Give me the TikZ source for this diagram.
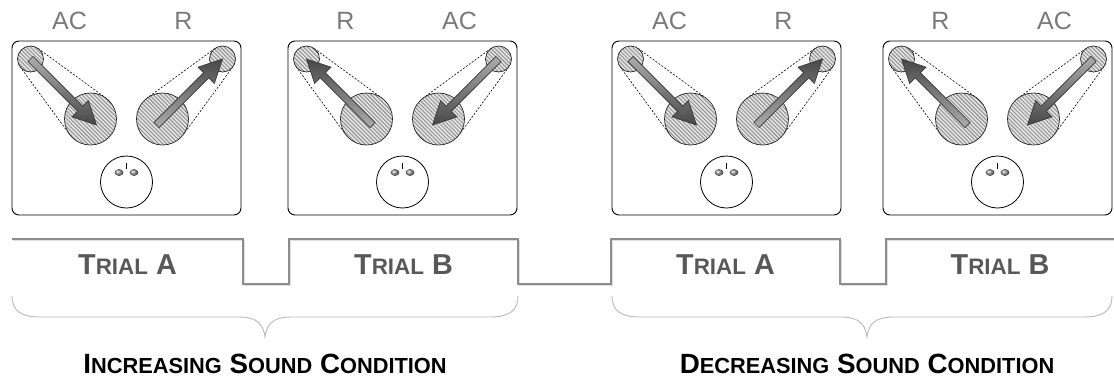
\documentclass[tikz,border=0pt]{standalone}
\usepackage{fontspec}
\setmainfont{Liberation Sans}
\usetikzlibrary{calc,patterns.meta}
\definecolor{lblgray}{HTML}{7A7A7A}
\definecolor{trialgray}{HTML}{585858}
\definecolor{stepgray}{HTML}{8C8C8C}
\definecolor{bracegray}{HTML}{B8B8B8}
\newcommand\blockarrow[3]{%
  \coordinate (ba-n) at ($(#2)!23pt!(#1)$);
  \path[arrowst,#3] ($(#1)!3.6pt!90:(#2)$) -- ($(ba-n)!3.6pt!-90:(#1)$) -- ($(ba-n)!11.5pt!-90:(#1)$) -- (#2) -- ($(ba-n)!11.5pt!90:(#1)$) -- ($(ba-n)!3.6pt!90:(#1)$) -- ($(#1)!3.6pt!-90:(#2)$) -- cycle;}
\newcommand\scT[1]{{\fontsize{22.4}{24}\selectfont #1}}
\newcommand\scC[1]{{\fontsize{21.8}{24}\selectfont #1}}
\begin{document}
\begin{tikzpicture}[x=1pt,y=-1pt,
  panelbox/.style={draw=black, line width=0.9pt, rounded corners=7pt, minimum width=229pt, minimum height=174pt, inner sep=0pt},
  hatched/.style={fill=gray!22, postaction={pattern={Lines[angle=-45,distance=2.8pt,line width=0.9pt]}, pattern color=gray!90}, postaction={draw=black!85, line width=0.7pt}},
  hull/.style={draw=black, line width=0.6pt, dash pattern=on 2pt off 1.6pt},
  arrowst/.style={draw=black!78, line width=0.7pt},
  downshade/.style={top color=gray!65, bottom color=black!72},
  upshade/.style={top color=black!72, bottom color=gray!65},
  face/.style={circle, draw=black, line width=0.8pt, fill=white, minimum size=52pt, inner sep=0pt},
  eye/.style={ball color=gray!75},
  lbl/.style={font=\fontsize{25}{28}\selectfont, text=lblgray, inner sep=0pt, anchor=base},
  trial/.style={font=\fontsize{28.8}{30}\selectfont\bfseries, text=trialgray, inner sep=0pt, anchor=base},
  cond/.style={font=\fontsize{27.8}{30}\selectfont\bfseries, text=black, inner sep=0pt, anchor=base},
  stepline/.style={draw=stepgray, line width=1.3pt},
  stepshadow/.style={draw=gray!25, line width=1.3pt},
  bracest/.style={draw=bracegray, line width=0.9pt}]
\useasboundingbox (0,0) rectangle (1114,381);

\foreach \L/\la/\lb/\mode/\id in {12/AC/R/0/p1, 288/R/AC/1/p2, 612/AC/R/0/p3, 883/R/AC/1/p4}{
  \node[panelbox] (\id) at (\L+114.5,128) {};
  \coordinate (\id-sl) at (\L+18.5,59);
  \coordinate (\id-bl) at (\L+78.5,119);
  \coordinate (\id-br) at (\L+150.5,119);
  \coordinate (\id-sr) at (\L+210.5,59);
  \coordinate (\id-el) at (\L+84.5,125);
  \coordinate (\id-er) at (\L+144.5,125);
  % dashed hulls
  \draw[hull] ($(\id-sl)+(143.81:13)$) -- ($(\id-bl)+(143.81:26)$);
  \draw[hull] ($(\id-sl)+(-53.81:13)$) -- ($(\id-bl)+(-53.81:26)$);
  \draw[hull] ($(\id-sr)+(233.81:13)$) -- ($(\id-br)+(233.81:26)$);
  \draw[hull] ($(\id-sr)+(36.19:13)$) -- ($(\id-br)+(36.19:26)$);
  % circles
  \path[hatched] (\id-bl) circle[radius=26];
  \path[hatched] (\id-br) circle[radius=26];
  \path[hatched] (\id-sl) circle[radius=13];
  \path[hatched] (\id-sr) circle[radius=13];
  % arrows
  \ifnum\mode=0
    \blockarrow{\id-sl}{\id-el}{downshade}
    \blockarrow{\id-er}{\id-sr}{upshade}
  \else
    \blockarrow{\id-el}{\id-sl}{upshade}
    \blockarrow{\id-sr}{\id-er}{downshade}
  \fi
  % face
  \node[face] (\id-face) at (\L+114.5,182) {};
  \fill[eye] ($(\id-face)+(-7.5,-9.5)$) ellipse[x radius=4.2, y radius=3.2];
  \fill[eye] ($(\id-face)+(7.5,-9.5)$) ellipse[x radius=4.2, y radius=3.2];
  \draw[line width=1pt] ($(\id-face)+(0,-19)$) -- ($(\id-face)+(0,-13.5)$);
  % labels
  \node[lbl] (\id-la) at (\L+57.5,29.5) {\la};
  \node[lbl] (\id-lb) at (\L+171.5,29.5) {\lb};
}

% stepped timeline
\draw[stepshadow] (13.2,240.2) -| (244.2,285.2) -| (290.2,240.2) -| (519.2,285.2) -| (612.2,240.2) -| (841.2,285.2) -| (887.2,240.2) -- (1114,240.2);
\draw[stepline] (12,239) -| (243,284) -| (289,239) -| (518,284) -| (611,239) -| (840,284) -| (886,239) -- (1114,239);

\node[trial] (ta1) at (127.5,274) {T\scT{RIAL} A};
\node[trial] (tb1) at (403.5,274) {T\scT{RIAL} B};
\node[trial] (ta2) at (725.5,274) {T\scT{RIAL} A};
\node[trial] (tb2) at (1000,274) {T\scT{RIAL} B};

% braces
\draw[bracest] (12,296) .. controls (12,310) and (20,317) .. (40,317) -- (238,317) .. controls (255,317) and (263,322) .. (265,337) .. controls (267,322) and (275,317) .. (292,317) -- (490,317) .. controls (510,317) and (518,310) .. (518,296);
\draw[bracest] (612,296) .. controls (612,310) and (620,317) .. (640,317) -- (840,317) .. controls (857,317) and (865,322) .. (867,337) .. controls (869,322) and (877,317) .. (894,317) -- (1084,317) .. controls (1104,317) and (1112,310) .. (1112,296);

\node[cond] (inc) at (265,373) {I\scC{NCREASING} S\scC{OUND} C\scC{ONDITION}};
\node[cond] (dec) at (867,373) {D\scC{ECREASING} S\scC{OUND} C\scC{ONDITION}};
\end{tikzpicture}
\end{document}
